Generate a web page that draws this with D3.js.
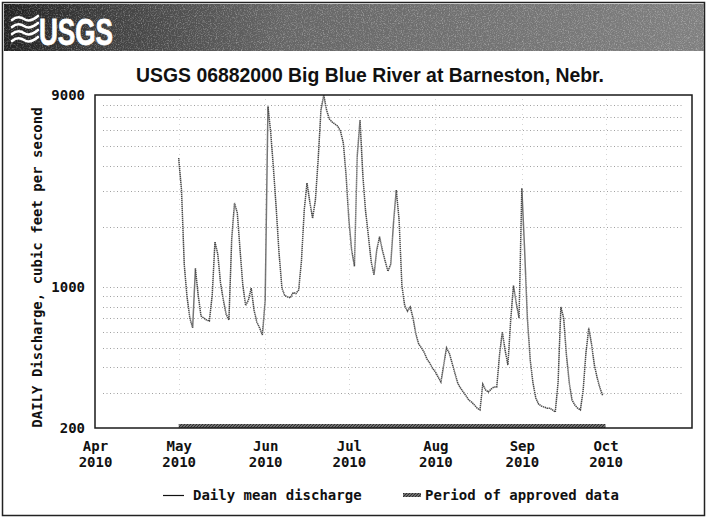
<!DOCTYPE html>
<html>
<head>
<meta charset="utf-8">
<script src="https://cdn.jsdelivr.net/npm/d3@7"></script>
<style>
  body { margin: 0; background: #fff; }
  svg { display: block; }
</style>
</head>
<body>
<script>
// Daily mean discharge, cubic feet per second, 2010 (one value per day)
const flowMay = [4380, 3040, 1290, 895, 703, 628, 1240, 910, 720, 703, 687, 679, 910, 1680, 1460, 1050,
  864, 735, 687, 1720, 2620, 2340, 1530, 1020, 812, 864, 990, 771, 672, 628, 580];
const flowJun = [864, 7900, 5860, 3820, 2420, 1460, 990, 910, 895, 885, 940, 930, 970, 1340, 2420, 3290,
  2650, 2200, 2710, 4330, 7580, 9000, 7580, 6850, 6610, 6460, 6310, 5960, 5200, 3620];
const flowJul = [2150, 1530, 1270, 4500, 6770, 3620, 2380, 1800, 1340, 1150, 1530, 1780, 1530, 1350, 1200,
  1300, 2080, 3040, 2170, 1020, 812, 760, 797, 703, 587, 524, 500, 475, 440, 420, 396];
const flowAug = [380, 358, 338, 411, 500, 471, 420, 375, 335, 316, 302, 289, 275, 269, 260, 251, 246, 330,
  309, 302, 312, 320, 320, 460, 600, 488, 411, 687, 1020, 835, 703];
const flowSep = [3100, 1530, 703, 435, 335, 282, 263, 257, 254, 251, 251, 246, 240, 338, 797, 703, 460, 335,
  275, 260, 251, 246, 309, 475, 628, 520, 411, 355, 316, 290];
const monthStarts = ["2010-05-01", "2010-06-01", "2010-07-01", "2010-08-01", "2010-09-01"];

// Axis ticks and labels
const xTickDates = ["2010-04-01", "2010-05-01", "2010-06-01", "2010-07-01", "2010-08-01", "2010-09-01", "2010-10-01"];
const xTickMonths = ["Apr", "May", "Jun", "Jul", "Aug", "Sep", "Oct"];
const xTickYears = ["2010", "2010", "2010", "2010", "2010", "2010", "2010"];
const yTickValues = [200, 1000, 9000];
const yGridValues = [300, 400, 500, 600, 700, 800, 900, 1000, 2000, 3000, 4000, 5000, 6000, 7000, 8000];
const approvedPeriod = ["2010-05-01", "2010-10-01"];

const title = "USGS 06882000 Big Blue River at Barneston, Nebr.";
const yTitle = "DAILY Discharge, cubic feet per second";
const legendLabels = ["Daily mean discharge", "Period of approved data"];

const W = 707, H = 518;
const plot = { left: 95, right: 692, top: 95, bottom: 428 };
const mono = "'DejaVu Sans Mono', 'Liberation Mono', monospace";
const parse = d3.utcParse("%Y-%m-%d");

const svg = d3.select("body").append("svg").attr("width", W).attr("height", H);
const defs = svg.append("defs");

// grain for the banner
const grain = defs.append("filter").attr("id", "grain").attr("x", 0).attr("y", 0).attr("width", 1).attr("height", 1);
grain.append("feTurbulence").attr("type", "fractalNoise").attr("baseFrequency", 0.85).attr("numOctaves", 2).attr("seed", 4).attr("result", "n");
grain.append("feColorMatrix").attr("in", "n").attr("type", "matrix")
  .attr("values", "0 0 0 0 1  0 0 0 0 1  0 0 0 0 1  1.6 0 0 0 -0.75").attr("result", "w");
grain.append("feComposite").attr("in", "w").attr("in2", "SourceGraphic").attr("operator", "in");

const bannerGrad = defs.append("linearGradient").attr("id", "banner").attr("x1", 0).attr("x2", 1).attr("y1", 0).attr("y2", 0);
bannerGrad.append("stop").attr("offset", "0").attr("stop-color", "#222");
bannerGrad.append("stop").attr("offset", "0.17").attr("stop-color", "#444");
bannerGrad.append("stop").attr("offset", "0.4").attr("stop-color", "#666");
bannerGrad.append("stop").attr("offset", "1").attr("stop-color", "#808080");

// hatch for the approved-data bar
const hatch = defs.append("pattern").attr("id", "hatch").attr("patternUnits", "userSpaceOnUse").attr("width", 3).attr("height", 3);
hatch.append("rect").attr("width", 3).attr("height", 3).attr("fill", "#8a8a8a");
hatch.append("path").attr("d", "M0,3 L3,0 M-1,1 L1,-1 M2,4 L4,2").attr("stroke", "#2a2a2a").attr("stroke-width", 1.1);

// page frame
svg.append("rect").attr("x", 2.5).attr("y", 2.5).attr("width", 702).attr("height", 513)
  .attr("fill", "none").attr("stroke", "#222").attr("stroke-width", 1.5);

// banner
svg.append("rect").attr("x", 4).attr("y", 4).attr("width", 700).attr("height", 47).attr("fill", "url(#banner)");
svg.append("rect").attr("x", 4).attr("y", 4).attr("width", 700).attr("height", 47).attr("fill", "#000").attr("filter", "url(#grain)").attr("opacity", 0.55);

// logo: waves + lettering
const logo = svg.append("g").attr("fill", "none").attr("stroke", "#fff").attr("stroke-width", 2.6).attr("stroke-linecap", "round");
[0, 7, 14, 21].forEach(o => {
  logo.append("path").attr("d", `M12,${20 + o} q6,-5 12,-1 q6,4 14,-3`);
});
svg.append("text").attr("x", 39).attr("y", 45).attr("fill", "#fff")
  .attr("font-family", "'Liberation Sans Narrow', 'Liberation Sans', Arial, sans-serif")
  .attr("font-weight", "bold").attr("font-size", 36).attr("textLength", 74).attr("lengthAdjust", "spacingAndGlyphs")
  .attr("stroke", "#fff").attr("stroke-width", 0.8)
  .text("USGS");

// title
svg.append("text").attr("x", 370).attr("y", 82).attr("text-anchor", "middle")
  .attr("font-family", "'Liberation Sans', Arial, sans-serif").attr("font-weight", "bold").attr("font-size", 20)
  .attr("textLength", 468).attr("lengthAdjust", "spacingAndGlyphs").attr("fill", "#111")
  .text(title);

// scales
const x = d3.scaleUtc().domain([parse("2010-04-01"), parse("2010-11-01")]).range([plot.left, plot.right]);
const y = d3.scaleLog().domain([200, 9000]).range([plot.bottom, plot.top]);

// gridlines
const grid = svg.append("g").attr("stroke", "#8a8a8a").attr("stroke-width", 1).attr("stroke-dasharray", "1,2.5").attr("opacity", 0.8);
grid.selectAll("line.h").data(yGridValues).join("line").attr("class", "h")
  .attr("x1", plot.left + 8).attr("x2", plot.right - 8)
  .attr("y1", d => Math.round(y(d)) + 0.5).attr("y2", d => Math.round(y(d)) + 0.5);
grid.selectAll("line.v").data(xTickDates.slice(1)).join("line").attr("class", "v")
  .attr("x1", d => Math.round(x(parse(d))) + 0.5).attr("x2", d => Math.round(x(parse(d))) + 0.5)
  .attr("y1", plot.top + 4).attr("y2", plot.bottom - 30).attr("opacity", 0.45).attr("stroke-dasharray", "1,4");

// discharge series
const monthly = [flowMay, flowJun, flowJul, flowAug, flowSep];
const series = monthly.flatMap((vals, i) => vals.map((v, k) => ({ date: d3.utcDay.offset(parse(monthStarts[i]), k), value: v })));
svg.append("path").datum(series)
  .attr("fill", "none").attr("stroke", "#4a4a4a").attr("stroke-width", 1.5).attr("stroke-dasharray", "1.4,0.6")
  .attr("d", d3.line().x(d => x(d.date)).y(d => y(d.value)));

// approved-data bar
svg.append("rect").attr("x", x(parse(approvedPeriod[0]))).attr("y", plot.bottom - 4)
  .attr("width", x(parse(approvedPeriod[1])) - x(parse(approvedPeriod[0]))).attr("height", 4)
  .attr("fill", "url(#hatch)");

// plot frame
svg.append("rect").attr("x", plot.left).attr("y", plot.top).attr("width", plot.right - plot.left).attr("height", plot.bottom - plot.top)
  .attr("fill", "none").attr("stroke", "#1a1a1a").attr("stroke-width", 1.5);

// y axis
const yAxis = svg.append("g").attr("transform", `translate(${plot.left - 10},0)`)
  .call(d3.axisLeft(y).tickValues(yTickValues).tickFormat(d3.format("d")).tickSize(0).tickPadding(0));
yAxis.select(".domain").remove();
yAxis.selectAll("text").attr("font-family", mono).attr("font-weight", "bold").attr("font-size", 14).attr("fill", "#111");

// x axis with two-line labels
const xAxis = svg.append("g").attr("transform", `translate(0,${plot.bottom})`)
  .call(d3.axisBottom(x).tickValues(xTickDates.map(parse)).tickSize(0).tickFormat(""));
xAxis.select(".domain").remove();
xAxis.selectAll(".tick text").each(function (d, i) {
  const t = d3.select(this).attr("font-family", mono).attr("font-weight", "bold").attr("font-size", 14).attr("fill", "#111").attr("dy", null).attr("y", 0);
  t.append("tspan").attr("x", 0).attr("y", 23).text(xTickMonths[i]);
  t.append("tspan").attr("x", 0).attr("y", 39).text(xTickYears[i]);
});

// y axis title
svg.append("text").attr("transform", `translate(42,${(plot.top + plot.bottom) / 2 + 6}) rotate(-90)`)
  .attr("text-anchor", "middle").attr("font-family", mono).attr("font-weight", "bold").attr("font-size", 14).attr("fill", "#111")
  .text(yTitle);

// legend
const lg = svg.append("g").attr("font-family", mono).attr("font-weight", "bold").attr("font-size", 14).attr("fill", "#111");
lg.append("line").attr("x1", 163).attr("x2", 184).attr("y1", 495.5).attr("y2", 495.5).attr("stroke", "#111").attr("stroke-width", 1.2);
lg.append("text").attr("x", 193).attr("y", 500).text(legendLabels[0]);
lg.append("rect").attr("x", 403).attr("y", 493).attr("width", 18).attr("height", 4).attr("fill", "url(#hatch)");
lg.append("text").attr("x", 425).attr("y", 500).text(legendLabels[1]);
</script>
</body>
</html>
